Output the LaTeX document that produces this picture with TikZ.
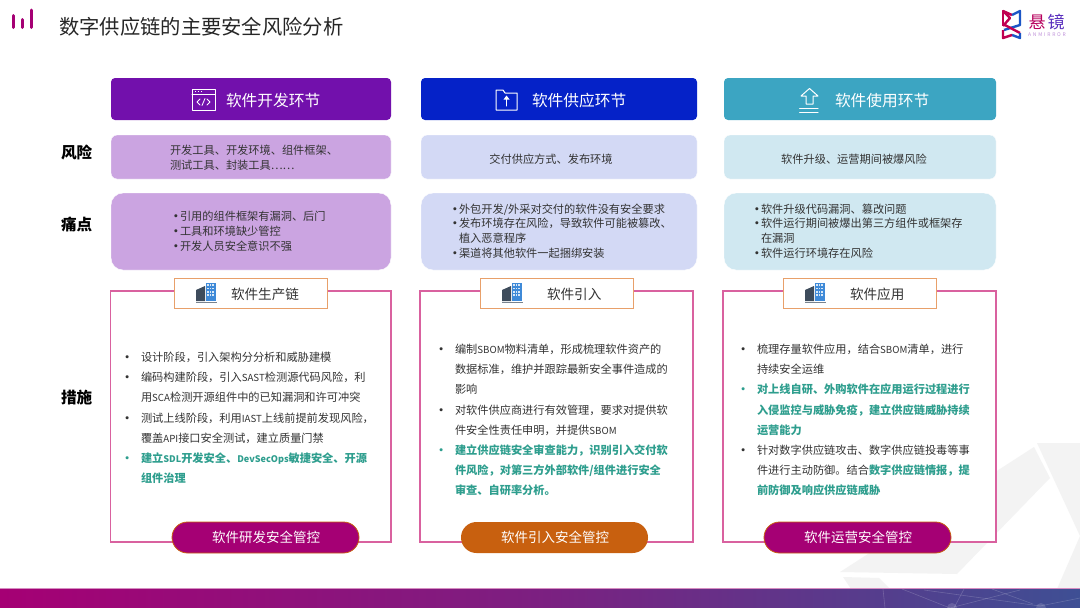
\documentclass[tikz,border=0pt]{standalone}
\usepackage{fontspec}
\setmainfont{Noto Sans CJK SC}
\usetikzlibrary{calc}
\definecolor{txt}{HTML}{333333}
\definecolor{teal1}{HTML}{2E9E8E}
\definecolor{magA}{HTML}{A50074}
\definecolor{barB}{HTML}{3E4F94}
\definecolor{orangeB}{HTML}{E8A06A}
\definecolor{frameC}{HTML}{D9619F}
\definecolor{orangeP}{HTML}{C8600F}
\definecolor{hA}{HTML}{7210AC}
\definecolor{hB}{HTML}{0522C8}
\definecolor{hC}{HTML}{3CA5C2}
\definecolor{pA}{HTML}{CBA4E1}
\definecolor{pB}{HTML}{D3D9F5}
\definecolor{pC}{HTML}{D0E8F1}
\definecolor{bgG}{HTML}{F3F3F3}
\definecolor{bldD}{HTML}{3E4C5C}
\definecolor{bldB}{HTML}{3F8AD8}
\newcommand{\fs}[2]{\fontsize{#1}{#2}\selectfont}
\newcommand{\bu}[1]{\makebox[#1][l]{\hspace*{-4.4pt}\textbf{•}}}
\newcommand{\bup}[1]{\makebox[#1][l]{\hspace*{-3.6pt}\textbf{•}}}
\newcommand{\ct}[1]{\hspace*{#1}}
\newcommand{\tl}[1]{\textcolor{teal1}{\textbf{#1}}}
\newcommand{\la}[1]{{\fontsize{9.7}{10}\selectfont #1}}
\newcommand{\lb}[1]{{\fontsize{9.1}{10}\selectfont #1}}
\tikzset{
  softbox/.style={draw=white,line width=.4pt,rounded corners=6pt},
  painbox/.style={draw=white,line width=.4pt,rounded corners=12pt},
  frame/.style={draw=frameC,line width=1.6pt,fill=white},
  tagbox/.style={draw=orangeB,line width=1pt,fill=white},
  pill/.style={rounded corners=15.5pt,line width=.8pt},
  body/.style={inner sep=0pt,outer sep=0pt,anchor=north west,align=left,text=txt,font=\fs{11.2}{20.2}},
  pain/.style={inner sep=0pt,outer sep=0pt,anchor=north west,align=left,text=txt,font=\fs{11.2}{14.8}},
  center text/.style={inner sep=0pt,outer sep=0pt,text=txt,font=\fs{11.2}{15}},
  headtxt/.style={inner sep=0pt,outer sep=0pt,anchor=west,text=white,font=\fs{15.7}{18}},
  tagtxt/.style={inner sep=0pt,outer sep=0pt,anchor=west,text=txt,font=\fs{13.6}{16}},
  pilltxt/.style={inner sep=0pt,outer sep=0pt,text=white,font=\fs{13.5}{16}},
  rowlabel/.style={inner sep=0pt,outer sep=0pt,anchor=west,text=black,font=\fs{15.6}{18}\bfseries},
  iconline/.style={draw=white,line width=1pt,line join=round,line cap=round},
}
\newcommand{\bld}[2]{%
  \fill[bldD] (#1+0,#2+7) -- (#1+9,#2+3) -- (#1+9,#2+18) -- (#1+0,#2+18) -- cycle;
  \fill[bldB] (#1+9.5,#2+0) rectangle (#1+20,#2+18);
  \fill[bldD!70!white] (#1-.5,#2+18.5) rectangle (#1+20.5,#2+20);
  \foreach \xx in {1,2,3}\foreach \yy in {1,2,3,4}
    \fill[white!80!bldB] (#1+9.5+\xx*2.7-1.2,#2+\yy*3.4-2.2) rectangle +(1.5,1.7);
}
\begin{document}
\begin{tikzpicture}[x=1pt,y=-1pt]
\useasboundingbox (0,0) rectangle (1080,608);
\fill[white] (0,0) rectangle (1080,608);
% background pale shapes
\fill[bgG] (840,572) -- (957,574) -- (1050,478) -- (1034,447) -- cycle;
\fill[bgG] (1037,443) -- (1080,443) -- (1080,536) -- cycle;
\fill[bgG] (1057,589) -- (1080,536) -- (1080,589) -- cycle;
\fill[bgG] (843,577) -- (879,578) -- (890,589) -- (851,589) -- cycle;
% bottom bar
\fill[magA!45!white] (0,587.8) rectangle (1080,589);
\shade[left color=magA,right color=barB,middle color=magA!60!barB,shading angle=90] (0,589) rectangle (1080,608);
\begin{scope}[draw=white,draw opacity=.18,line width=.6pt]
\draw (902,589) -- (950,608);
\draw (992,589) -- (1033,604);
\draw (1020,590) -- (950,608);
\draw (964,589) -- (954,608);
\draw (924,590) -- (1040,606);
\draw (1040,606) -- (1080,598);
\draw (883,589) -- (885,608);
\end{scope}
\fill[white,opacity=.15] (952,608) circle (5);
\fill[white,opacity=.15] (1041,608) circle (5);
% top-left mark
\begin{scope}[line width=3pt,draw=magA,line cap=round]
\draw (13.5,15.5) -- (13.5,27.5);
\draw (22.5,19.5) -- (22.5,27.5);
\draw (31,10) -- (31,27.5);
\end{scope}
\node[inner sep=0pt,anchor=west,text=black!85,font=\fs{20.3}{24}] (title) at (59,26.5) {数字供应链的主要安全风险分析};
% right logo
\begin{scope}[line width=2.4pt,line join=round]
\draw[draw=magA!70!red] (1003,26) -- (1010,18) -- (1003,11) -- (1012,15);
\draw[draw=magA!70!red] (1003,11) -- (1003,26);
\draw[draw=hB!60!hC] (1012,15) -- (1020,11) -- (1020,25) -- (1004,30);
\draw[draw=magA!70!red] (1003,24) -- (1020,33);
\draw[draw=hB!60!hC] (1020,33) -- (1020,38) -- (1012,35);
\draw[draw=magA!70!red] (1012,35) -- (1003,38) -- (1003,30);
\end{scope}
\node[inner sep=0pt,text=magA!80!red,font=\fs{17}{18}] (logoa) at (1037,22) {悬};
\node[inner sep=0pt,text=hA!60!hB!90!white,font=\fs{17}{18}] (logob) at (1056,22) {镜};
\node[inner sep=0pt,text=hA!45!white,font=\fs{5}{6}\addfontfeature{LetterSpace=35}] (logoc) at (1047,34.5) {ANMIRROR};
% row labels
\node[rowlabel] (lbA) at (61,153) {风险};
\node[rowlabel] (lbB) at (61,224) {痛点};
\node[rowlabel] (lbC) at (61,398) {措施};
% header boxes
\fill[hA,rounded corners=4pt] (111,78) rectangle (391,120);
\fill[hB,rounded corners=4pt] (421,78) rectangle (697,120);
\fill[hC,rounded corners=4pt] (724,78) rectangle (996,120);
\node[headtxt] (hdA) at (226,100.5) {软件开发环节};
\node[headtxt] (hdB) at (532,100.5) {软件供应环节};
\node[headtxt] (hdC) at (835,100.5) {软件使用环节};
% icon A
\draw[iconline] (192,89) rectangle (215,110);
\draw[iconline] (192,94) -- (215,94);
\draw[white,line width=.9pt] (195,91.5) -- (196,91.5) (198,91.5) -- (199,91.5) (201,91.5) -- (202,91.5);
\draw[iconline,line width=.8pt] (200,99) -- (197,102) -- (200,105);
\draw[iconline,line width=.8pt] (207,99) -- (210,102) -- (207,105);
\draw[iconline,line width=.8pt] (202,105.5) -- (205,98.5);
% icon B
\draw[iconline] (496,90) -- (503,90) -- (505,93) -- (517,93) -- (517,110) -- (496,110) -- cycle;
\draw[iconline] (506.5,106) -- (506.5,98);
\fill[white] (503.5,99.5) -- (506.5,95.5) -- (509.5,99.5) -- cycle;
% icon C
\draw[iconline] (806,104) -- (806,96) -- (801,96) -- (809.5,88.5) -- (818,96) -- (813,96) -- (813,104) -- cycle;
\draw[iconline] (799.5,108.5) -- (818,108.5);
\draw[iconline] (799.5,112) -- (818,112);
% risk boxes
\path[softbox,fill=pA] (111,135) rectangle (391,179);
\path[softbox,fill=pB] (421,135) rectangle (697,179);
\path[softbox,fill=pC] (724,135) rectangle (996,179);
\node[center text,anchor=west,align=left] (rA) at (170,158) {开发工具、开发环境、组件框架、\\测试工具、封装工具\ldots\ldots};
\node[center text] (rB) at (551,159) {交付供应方式、发布环境};
\node[center text] (rC) at (854,159) {软件升级、运营期间被爆风险};
% pain boxes
\path[painbox,fill=pA] (111,193) rectangle (391,270);
\path[painbox,fill=pB] (421,193) rectangle (697,270);
\path[painbox,fill=pC] (724,193) rectangle (996,270);
\node[pain] (pnA) at (174,211.5) {\bup{6pt}引用的组件框架有漏洞、后门\\\bup{6pt}工具和环境缺少管控\\\bup{6pt}开发人员安全意识不强};
\node[pain] (pnB) at (453,203.5) {\bup{6pt}外包开发/外采对交付的软件没有安全要求\\\bup{6pt}发布环境存在风险，导致软件可能被篡改、\\\ct{6pt}植入恶意程序\\\bup{6pt}渠道将其他软件一起捆绑安装};
\node[pain] (pnC) at (755,203.5) {\bup{6pt}软件升级代码漏洞、篡改问题\\\bup{6pt}软件运行期间被爆出第三方组件或框架存\\\ct{6pt}在漏洞\\\bup{6pt}软件运行环境存在风险};
% frames
\path[frame] (110.5,291) rectangle (391,542);
\path[frame] (420,291) rectangle (693,542);
\path[frame] (723,291) rectangle (996,542);
% tags
\path[tagbox] (174,278) rectangle (327,308);
\path[tagbox] (480,278) rectangle (633,308);
\path[tagbox] (783,278) rectangle (936,308);
\bld{196}{283}
\bld{502}{283}
\bld{805}{283}
\node[tagtxt] (tgA) at (231,294) {软件生产链};
\node[tagtxt] (tgB) at (547,294) {软件引入};
\node[tagtxt] (tgC) at (850,294) {软件应用};
% body texts
\node[body] (bdA) at (126,352) {\bu{15pt}设计阶段，引入架构分分析和威胁建模\\
\bu{15pt}编码构建阶段，引入\la{SAST}检测源代码风险，利\\
\ct{15pt}用\la{SCA}检测开源组件中的已知漏洞和许可冲突\\
\bu{15pt}测试上线阶段，利用\la{IAST}上线前提前发现风险，\\
\ct{15pt}覆盖\la{API}接口安全测试，建立质量门禁\\
\textcolor{teal1}{\bu{15pt}}\tl{建立\lb{SDL}开发安全、\lb{DevSecOps}敏捷安全、开源}\\
\ct{15pt}\tl{组件治理}};
\node[body] (bdB) at (440,344) {\bu{15pt}编制\la{SBOM}物料清单，形成梳理软件资产的\\
\ct{15pt}数据标准，维护并跟踪最新安全事件造成的\\
\ct{15pt}影响\\
\bu{15pt}对软件供应商进行有效管理，要求对提供软\\
\ct{15pt}件安全性责任申明，并提供\la{SBOM}\\
\textcolor{teal1}{\bu{15pt}}\tl{建立供应链安全审查能力，识别引入交付软}\\
\ct{15pt}\tl{件风险，对第三方外部软件/组件进行安全}\\
\ct{15pt}\tl{审查、自研率分析。}};
\node[body] (bdC) at (742,344) {\bu{15pt}梳理存量软件应用，结合\la{SBOM}清单，进行\\
\ct{15pt}持续安全运维\\
\textcolor{teal1}{\bu{15pt}}\tl{对上线自研、外购软件在应用运行过程进行}\\
\ct{15pt}\tl{入侵监控与威胁免疫，建立供应链威胁持续}\\
\ct{15pt}\tl{运营能力}\\
\bu{15pt}针对数字供应链攻击、数字供应链投毒等事\\
\ct{15pt}件进行主动防御。结合\tl{数字供应链情报，提}\\
\ct{15pt}\tl{前防御及响应供应链威胁}};
% pills
\path[pill,draw=orangeP,fill=magA] (172,522) rectangle (359,553);
\path[pill,fill=orangeP] (461,522) rectangle (648,553);
\path[pill,draw=orangeP,fill=magA] (764,522) rectangle (951,553);
\node[pilltxt] (plA) at (266,537.5) {软件研发安全管控};
\node[pilltxt] (plB) at (555,537.5) {软件引入安全管控};
\node[pilltxt] (plC) at (858,537.5) {软件运营安全管控};
\end{tikzpicture}
\end{document}
